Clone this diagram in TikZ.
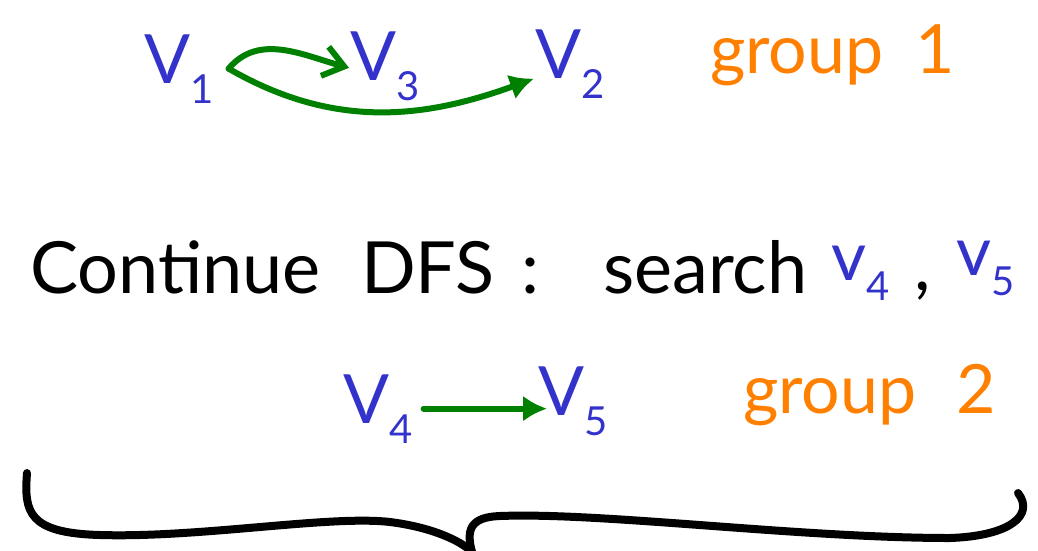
\documentclass[tikz,border=0pt]{standalone}
\usepackage{fontspec}
\setmainfont{Lato}
\usetikzlibrary{arrows.meta}
\definecolor{inkblue}{RGB}{51,51,204}
\definecolor{inkgreen}{RGB}{0,128,0}
\definecolor{inkorange}{RGB}{255,128,0}
\tikzset{
  vx/.style={text=inkblue,inner sep=1pt,font=\fontsize{68}{68}\selectfont},
  grp/.style={text=inkorange,inner sep=0pt,font=\fontsize{68}{68}\selectfont},
  txt/.style={text=black,inner sep=0pt,font=\fontsize{72}{72}\selectfont},
  edg/.style={draw=inkgreen,line width=6pt,line cap=round},
  opn/.style={edg,-{Straight Barb[length=20pt,width=30pt]}},
  fll/.style={edg,-{Latex[length=24pt,width=26pt]}},
  brc/.style={draw=black,line width=8pt,line cap=round},
}
\newcommand{\vsub}[1]{\raisebox{-20pt}{\fontsize{40}{40}\selectfont #1}}

\begin{document}
\begin{tikzpicture}[x=1pt,y=-1pt]
\useasboundingbox (0,0) rectangle (1038,550);
% ---- group 1
\node[vx,anchor=base west] (v1) at (143,83) {V\vsub{1}};
\node[vx,anchor=base west] (v3) at (349,80) {V\vsub{3}};
\node[vx,anchor=base west] (v2) at (534,78) {V\vsub{2}};
\node[grp,anchor=base west] (g1) at (710,73) {group\hspace{32pt}1};
\draw[opn] ([xshift=14pt]v1.east) to[out=50,in=165] ([yshift=-2pt]v3.west);
\draw[fll] ([xshift=14pt]v1.east) to[out=-30,in=200] ([yshift=-15pt]v2.west);
% ---- continue line
\node[txt,anchor=base west] (w1) at (30,293) {Continue};
\node[txt,anchor=base west] (w2) at (361,293) {DFS};
\node[txt,anchor=base] (w3) at (530,293) {:};
\node[txt,anchor=base west] (w4) at (603,293) {search};
\node[vx,anchor=base west] (w5) at (830,280) {v\vsub{4}};
\node[txt,anchor=base west] (w6) at (914,290) {,};
\node[vx,anchor=base west] (w7) at (955,275) {v\vsub{5}};
% ---- group 2
\node[vx,anchor=base west] (v4) at (342,423) {V\vsub{4}};
\node[vx,anchor=base west] (v5) at (537,415) {V\vsub{5}};
\node[grp,anchor=base west] (g2) at (743,413) {group\hspace{40pt}2};
\draw[fll] ([xshift=10pt]v4.east) -- ([xshift=10pt]v4.east -| v5.west);
% ---- brace
\draw[brc] (27,473) .. controls (24,512) and (28,533) .. (100,535)
  .. controls (200,538) and (330,515) .. (390,522)
  .. controls (430,527) and (460,540) .. (472,552);
\draw[brc] (472,552) .. controls (466,530) and (470,517) .. (500,516)
  .. controls (600,512) and (800,538) .. (950,538)
  .. controls (1010,536) and (1035,515) .. (1018,493);
\end{tikzpicture}
\end{document}
